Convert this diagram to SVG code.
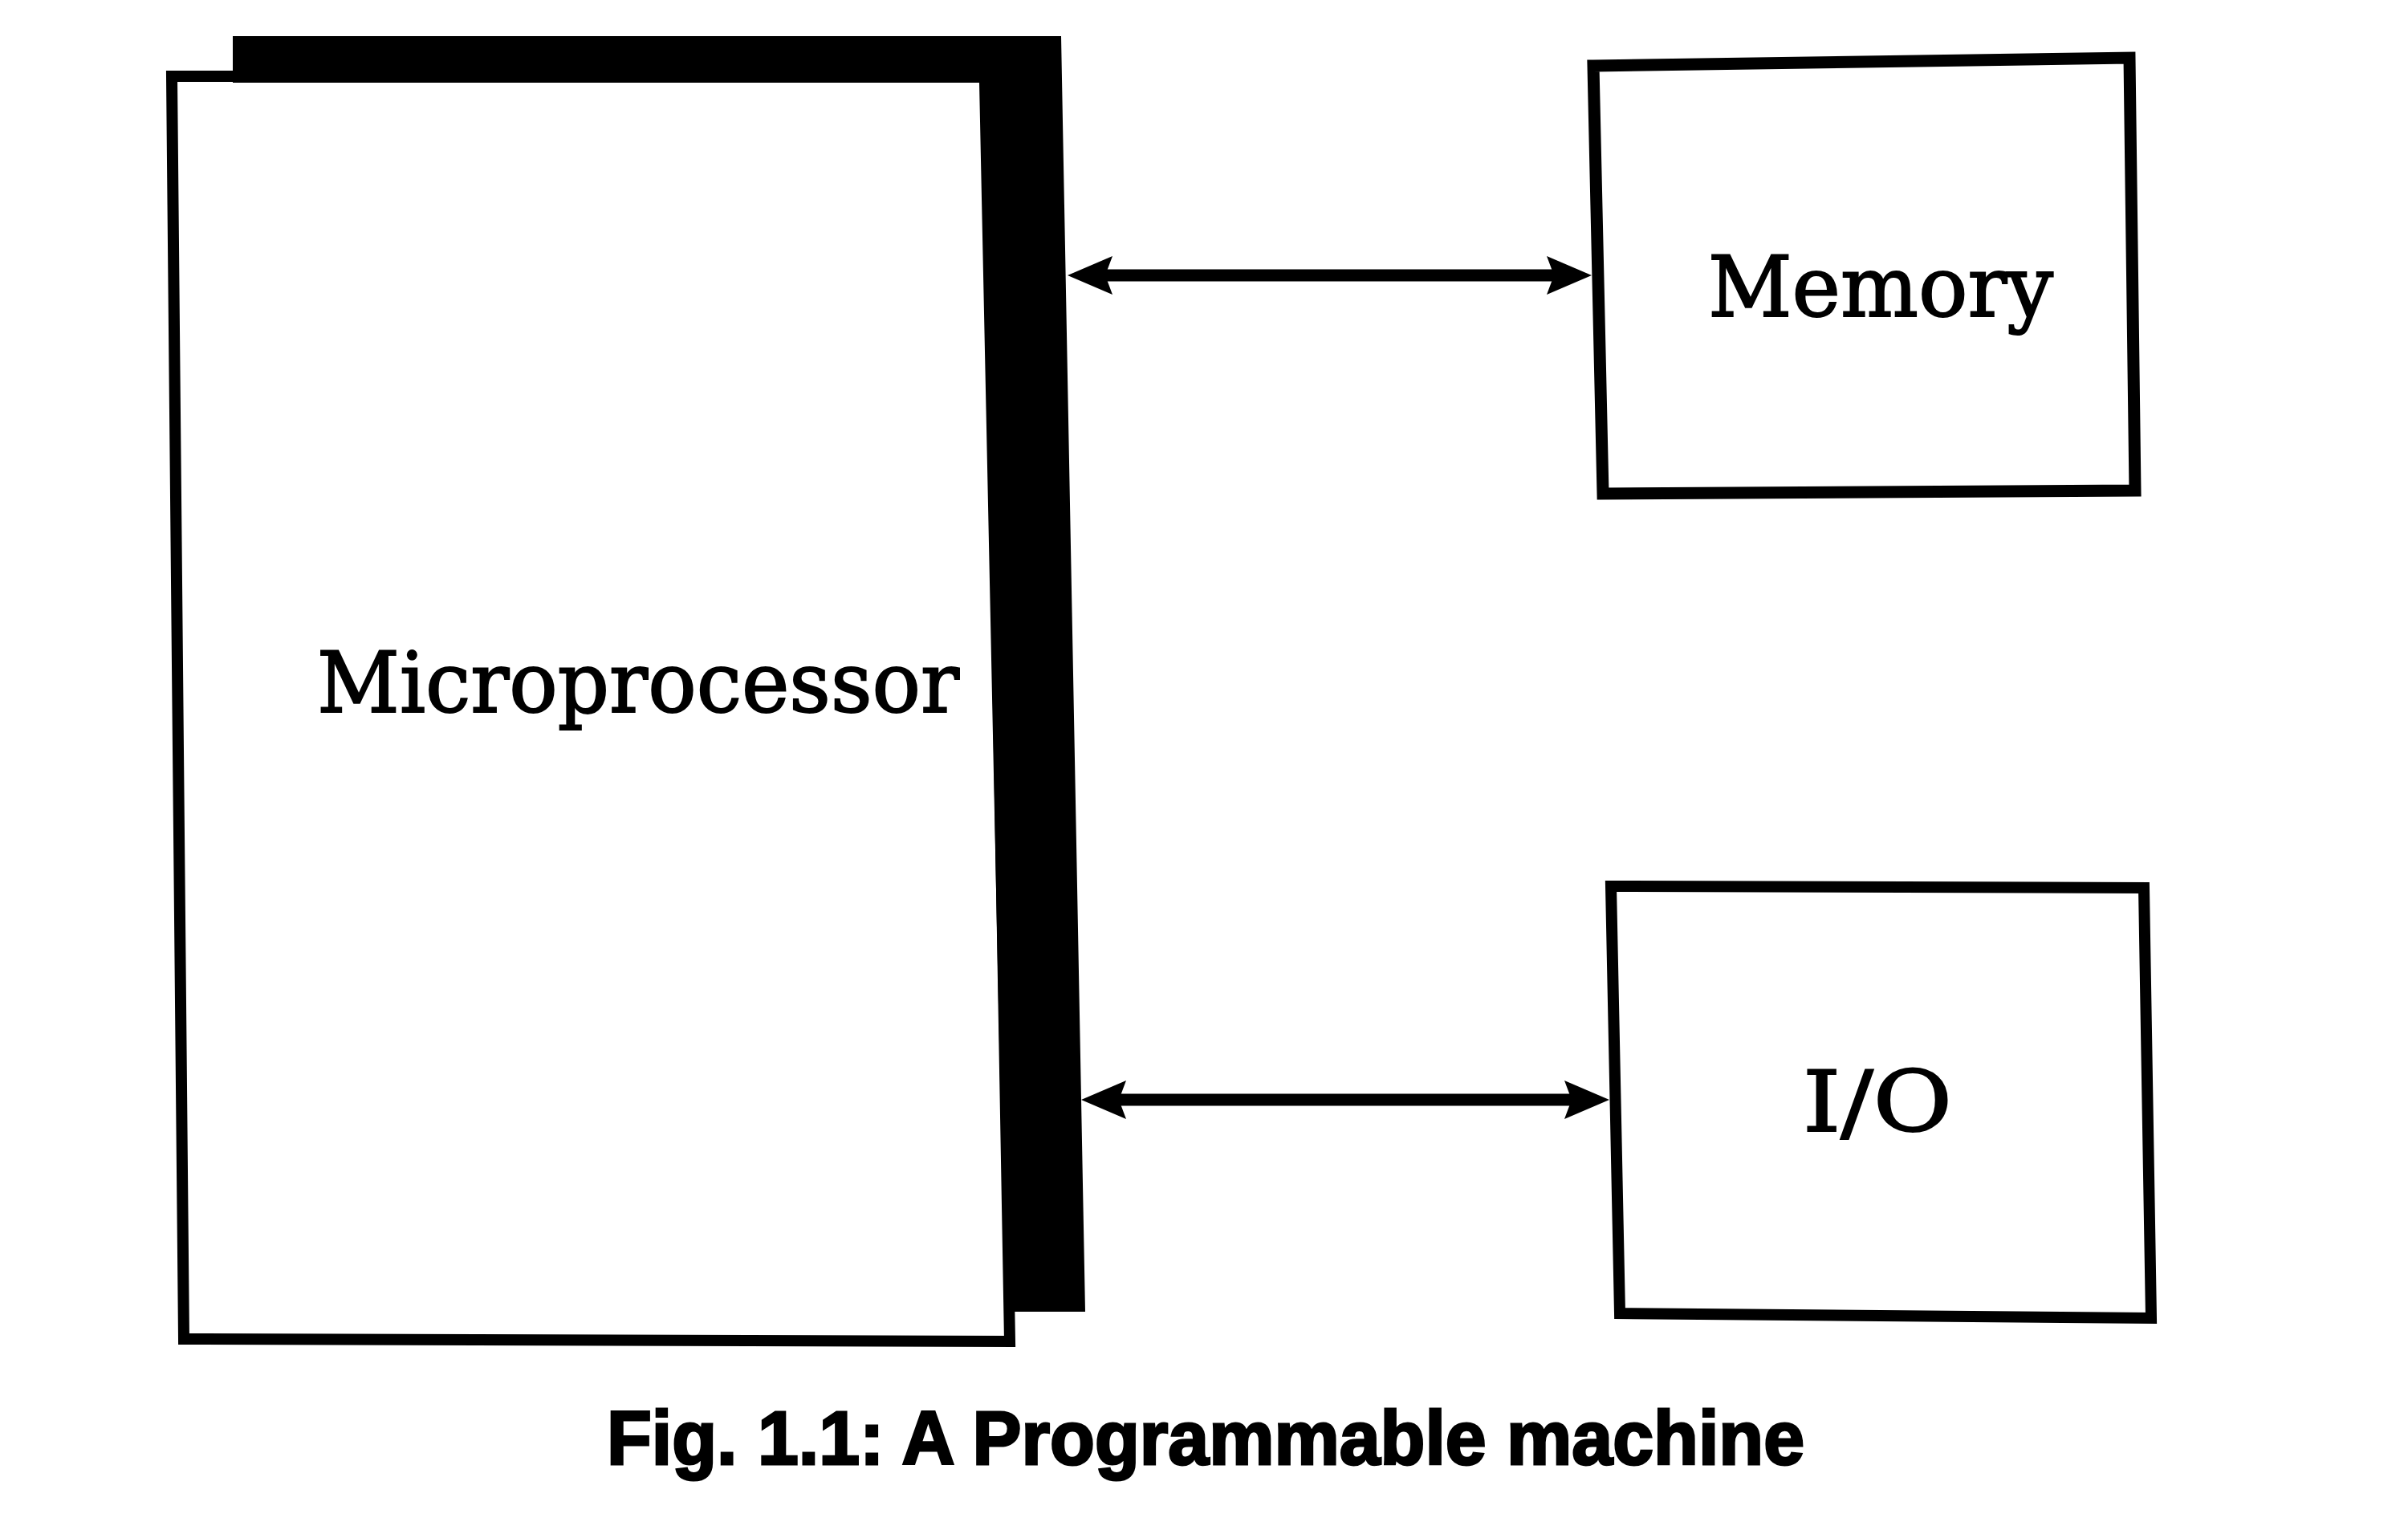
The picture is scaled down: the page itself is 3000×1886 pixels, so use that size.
<svg xmlns="http://www.w3.org/2000/svg" width="3000" height="1886" viewBox="0 0 3000 1886">
<defs>
<style>
.box{fill:#fff;stroke:#000;stroke-width:14;stroke-linejoin:miter}
.lbl{font-family:"DejaVu Serif","Liberation Serif",serif;font-size:104px;fill:#000;stroke:#000;stroke-width:2}
.cap{font-family:"Liberation Sans",Arial,sans-serif;font-weight:bold;font-size:95px;fill:#000;stroke:#000;stroke-width:3}
.bus{stroke:#000;stroke-width:15;fill:none;marker-start:url(#ah);marker-end:url(#ah)}
</style>
<marker id="ah" markerUnits="userSpaceOnUse" viewBox="0 -24 56 48" refX="26" refY="0" markerWidth="56" markerHeight="48" orient="auto-start-reverse">
<path d="M0,-24 L56,0 L0,24 L9,0 Z" fill="#000"/>
</marker>
</defs>
<rect width="3000" height="1886" fill="#fff"/>
<g id="microprocessor">
<polygon class="box" points="214,95 1230,95 1258,1671 229,1668"/>
<polygon points="290,45 1322,45 1352,1634 1252,1634 1220,103 290,103" fill="#000"/>
<text class="lbl" x="395" y="887" textLength="800" lengthAdjust="spacingAndGlyphs">Microprocessor</text>
</g>
<g id="memory">
<polygon class="box" style="stroke-width:15" points="1985,82 2653,72 2660,611 1997,615"/>
<text class="lbl" x="2128" y="394" textLength="430" lengthAdjust="spacingAndGlyphs">Memory</text>
</g>
<g id="io">
<polygon class="box" points="2007,1104 2671,1106 2680,1642 2018,1636"/>
<text class="lbl" x="2246" y="1409" textLength="186" lengthAdjust="spacingAndGlyphs">I/O</text>
</g>
<g id="connectors">
<line class="bus" x1="1360" y1="343" x2="1953" y2="343"/>
<line class="bus" x1="1377" y1="1370" x2="1975" y2="1370"/>
</g>
<g id="caption">
<text class="cap" x="756" y="1824" textLength="1492" lengthAdjust="spacingAndGlyphs">Fig. 1.1: A Programmable machine</text>
</g>
</svg>
